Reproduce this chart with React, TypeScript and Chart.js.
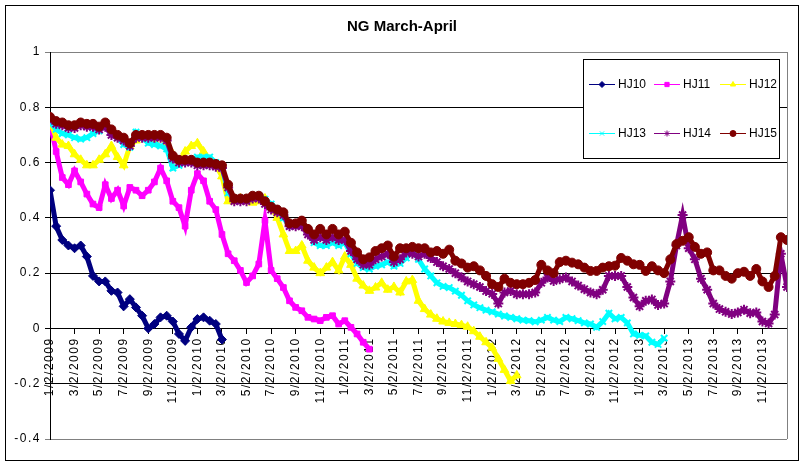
import React, { useEffect, useRef } from "react";
import { Chart, registerables } from "chart.js";
import { drawPoint } from "chart.js/helpers";

Chart.register(...registerables);

const TITLE = "NG March-April";
const FONT = '"Liberation Sans", Arial, sans-serif';

const seriesNames = ["HJ10", "HJ11", "HJ12", "HJ13", "HJ14", "HJ15"];
const seriesColors = ["#000080", "#FF00FF", "#FFFF00", "#00FFFF", "#800080", "#800000"];
const seriesMarkers = ["rectRot", "rect", "triangle", "crossRot", "star", "circle"];

// x = months since 1/2/2009; values sampled every half month
const tickMonths = [0, 2, 4, 6, 8, 10, 12, 14, 16, 18, 20, 22, 24, 26, 28, 30, 32, 34, 36, 38, 40, 42, 44, 46, 48, 50, 52, 54, 56, 58];
const tickLabels = [
  "1/2/2009", "3/2/2009", "5/2/2009", "7/2/2009", "9/2/2009", "11/2/2009",
  "1/2/2010", "3/2/2010", "5/2/2010", "7/2/2010", "9/2/2010", "11/2/2010",
  "1/2/2011", "3/2/2011", "5/2/2011", "7/2/2011", "9/2/2011", "11/2/2011",
  "1/2/2012", "3/2/2012", "5/2/2012", "7/2/2012", "9/2/2012", "11/2/2012",
  "1/2/2013", "3/2/2013", "5/2/2013", "7/2/2013", "9/2/2013", "11/2/2013",
];
const yTickLabels = ["-0.4", "-0.2", "0", "0.2", "0.4", "0.6", "0.8", "1"];

const hj10 = [0.50, 0.37, 0.32, 0.30, 0.29, 0.30, 0.26, 0.19, 0.17, 0.17, 0.136, 0.13, 0.08, 0.106, 0.076, 0.046, 0.0, 0.016, 0.04, 0.046, 0.025, -0.02, -0.045, 0.004, 0.034, 0.04, 0.028, 0.016, -0.04];

const hj11 = [0.745, 0.64, 0.546, 0.52, 0.57, 0.53, 0.486, 0.45, 0.437, 0.52, 0.47, 0.50, 0.443, 0.51, 0.50, 0.48, 0.50, 0.53, 0.58, 0.534, 0.46, 0.437, 0.37, 0.50, 0.56, 0.534, 0.46, 0.43, 0.34, 0.27, 0.245, 0.21, 0.166, 0.19, 0.233, 0.39, 0.21, 0.18, 0.148, 0.10, 0.076, 0.064, 0.04, 0.034, 0.028, 0.04, 0.046, 0.016, 0.028, 0.004, -0.02, -0.05, -0.075];

const hj12 = [0.75, 0.69, 0.665, 0.66, 0.63, 0.61, 0.59, 0.59, 0.61, 0.63, 0.66, 0.62, 0.59, 0.66, 0.68, 0.69, 0.69, 0.68, 0.69, 0.67, 0.63, 0.60, 0.64, 0.66, 0.67, 0.64, 0.61, 0.59, 0.55, 0.46, 0.46, 0.47, 0.46, 0.455, 0.46, 0.47,
  0.44, 0.40, 0.34, 0.28, 0.28, 0.30, 0.245, 0.22, 0.20, 0.22, 0.24, 0.21, 0.26, 0.23, 0.18, 0.155, 0.136, 0.148, 0.165, 0.14, 0.15, 0.13, 0.17, 0.175, 0.10, 0.07, 0.05, 0.035, 0.025, 0.02, 0.016, 0.012, 0.006, -0.01, -0.03, -0.05, -0.07, -0.11, -0.15, -0.19, -0.17];

const hj13 = [0.745, 0.72, 0.705, 0.70, 0.69, 0.685, 0.69, 0.705, 0.715, 0.74, 0.715, 0.69, 0.665, 0.655, 0.71, 0.69, 0.67, 0.665, 0.66, 0.65,
  0.58, 0.59, 0.60, 0.605, 0.62, 0.62, 0.62, 0.60, 0.585, 0.49, 0.47, 0.467, 0.47, 0.475, 0.48, 0.467, 0.45, 0.43, 0.40, 0.37,
  0.375, 0.385, 0.35, 0.31, 0.30, 0.30, 0.31, 0.30, 0.31, 0.27, 0.235, 0.22, 0.215, 0.225, 0.23, 0.24, 0.225, 0.235, 0.255, 0.28,
  0.25, 0.215, 0.19, 0.165, 0.152, 0.148, 0.135, 0.12, 0.10, 0.085, 0.075, 0.066, 0.06, 0.052, 0.045, 0.04, 0.035, 0.03, 0.028, 0.024,
  0.03, 0.04, 0.03, 0.025, 0.04, 0.035, 0.028, 0.02, 0.016, 0.004, 0.025, 0.055, 0.035, 0.04, 0.02, -0.02, -0.025, -0.027, -0.05, -0.058, -0.035];

const hj14 = [0.76, 0.74, 0.735, 0.725, 0.725, 0.735, 0.73, 0.73, 0.72, 0.73, 0.70, 0.69, 0.68, 0.66, 0.69, 0.69, 0.69, 0.69, 0.69, 0.68,
  0.615, 0.60, 0.60, 0.60, 0.59, 0.59, 0.59, 0.585, 0.58, 0.51, 0.46, 0.46, 0.46, 0.47, 0.47, 0.45, 0.43, 0.42, 0.41, 0.37,
  0.37, 0.37, 0.34, 0.32, 0.33, 0.32, 0.33, 0.32, 0.32, 0.28, 0.25, 0.23, 0.23, 0.25, 0.26, 0.27, 0.24, 0.25, 0.275, 0.27,
  0.26, 0.27, 0.255, 0.24, 0.225, 0.215, 0.20, 0.185, 0.17, 0.16, 0.15, 0.135, 0.125, 0.09, 0.13, 0.135, 0.124, 0.124, 0.124, 0.13,
  0.165, 0.184, 0.172, 0.178, 0.184, 0.17, 0.155, 0.142, 0.13, 0.124, 0.14, 0.19, 0.19, 0.19, 0.15, 0.112, 0.08, 0.10, 0.105, 0.085,
  0.09, 0.17, 0.30, 0.41, 0.29, 0.25, 0.18, 0.14, 0.09, 0.07, 0.06, 0.052, 0.058, 0.068, 0.055, 0.058, 0.025, 0.018, 0.05, 0.27, 0.15];

const hj15 = [0.765, 0.75, 0.745, 0.735, 0.735, 0.745, 0.74, 0.74, 0.73, 0.745, 0.72, 0.70, 0.69, 0.67, 0.70, 0.70, 0.70, 0.70, 0.70, 0.69,
  0.625, 0.61, 0.61, 0.61, 0.60, 0.60, 0.60, 0.595, 0.59, 0.52, 0.47, 0.47, 0.47, 0.48, 0.48, 0.46, 0.44, 0.43, 0.42, 0.38,
  0.38, 0.39, 0.36, 0.34, 0.36, 0.34, 0.36, 0.34, 0.35, 0.31, 0.275, 0.25, 0.257, 0.28, 0.29, 0.30, 0.26, 0.29, 0.29, 0.295,
  0.29, 0.29, 0.275, 0.28, 0.27, 0.285, 0.245, 0.235, 0.22, 0.225, 0.21, 0.19, 0.16, 0.15, 0.18, 0.165, 0.16, 0.16, 0.165, 0.175,
  0.23, 0.21, 0.20, 0.24, 0.245, 0.238, 0.232, 0.22, 0.208, 0.208, 0.22, 0.225, 0.227, 0.255, 0.245, 0.232, 0.23, 0.208, 0.225, 0.21,
  0.20, 0.25, 0.305, 0.317, 0.33, 0.295, 0.27, 0.275, 0.21, 0.21, 0.19, 0.18, 0.20, 0.205, 0.19, 0.215, 0.17, 0.15, 0.19, 0.33, 0.32];

const seriesValues = [hj10, hj11, hj12, hj13, hj14, hj15];
const HALF_MONTH = 0.5;

const markerRadius = [4.5, 4, 5, 4.5, 5, 4.5];

const framePlugin = {
  id: "frame",
  beforeDraw(chart: any) {
    const ctx = chart.ctx;
    ctx.save();
    ctx.fillStyle = "#ffffff";
    ctx.fillRect(0, 0, chart.width, chart.height);
    ctx.strokeStyle = "#000000";
    ctx.lineWidth = 1;
    ctx.strokeRect(5.5, 5.5, 793, 455);
    ctx.restore();
    (ctx as any).letterSpacing = "1.5px";
  },
  beforeDatasetsDraw(chart: any) {
    const { ctx, chartArea } = chart;
    ctx.save();
    ctx.strokeStyle = "#808080";
    ctx.lineWidth = 1;
    ctx.beginPath();
    const rx = Math.round(chartArea.right) + 0.5;
    ctx.moveTo(rx, chartArea.top);
    ctx.lineTo(rx, chartArea.bottom);
    ctx.stroke();
    ctx.restore();
  },
  afterDraw(chart: any) {
    const ctx = chart.ctx;
    (ctx as any).letterSpacing = "0px";
    ctx.save();
    // title
    ctx.fillStyle = "#000";
    ctx.font = `bold 15px ${FONT}`;
    ctx.textAlign = "center";
    ctx.textBaseline = "middle";
    ctx.fillText(TITLE, 402, 27);
    // legend box
    const { chartArea } = chart;
    const bx = chartArea.right - 204;
    const by = chartArea.top + 7;
    const bw = 196;
    const bh = 99;
    ctx.fillStyle = "#fff";
    ctx.fillRect(bx, by, bw, bh);
    ctx.strokeStyle = "#000";
    ctx.lineWidth = 1;
    ctx.strokeRect(Math.round(bx) + 0.5, Math.round(by) + 0.5, bw, bh);
    const colX = [bx + 6, bx + 71, bx + 137];
    const rowY = [by + 25, by + 74];
    chart.data.datasets.forEach((ds: any, i: number) => {
      const cx = colX[i % 3];
      const cy = rowY[Math.floor(i / 3)];
      ctx.strokeStyle = ds.borderColor;
      ctx.lineWidth = 1;
      ctx.beginPath();
      ctx.moveTo(cx, Math.round(cy) + 0.5);
      ctx.lineTo(cx + 26, Math.round(cy) + 0.5);
      ctx.stroke();
      ctx.fillStyle = ds.borderColor;
      drawPoint(ctx, { pointStyle: ds.pointStyle, radius: 3, rotation: 0, borderWidth: 1 }, cx + 13, cy + 0.5);
      ctx.fillStyle = "#000";
      ctx.font = `12px ${FONT}`;
      ctx.textAlign = "left";
      ctx.textBaseline = "middle";
      ctx.fillText(ds.label, cx + 29, cy + 1);
    });
    ctx.restore();
  },
};

export default function App() {
  const canvasRef = useRef<HTMLCanvasElement | null>(null);

  useEffect(() => {
    if (!canvasRef.current) return;
    const datasets = seriesNames.map((name, si) => ({
      label: name,
      data: seriesValues[si].map((v, i) => ({ x: i * HALF_MONTH, y: v })),
      borderColor: seriesColors[si],
      backgroundColor: seriesColors[si],
      pointBackgroundColor: seriesColors[si],
      pointBorderColor: seriesColors[si],
      pointStyle: seriesMarkers[si],
      pointRadius: markerRadius[si],
      pointBorderWidth: si === 3 || si === 4 ? 2 : 1,
      borderWidth: 5,
      tension: 0,
      order: 6 - si,
    }));

    const chart = new Chart(canvasRef.current, {
      type: "line",
      data: { datasets },
      plugins: [framePlugin],
      options: {
        animation: false,
        responsive: false,
        maintainAspectRatio: false,
        layout: { padding: { left: 5, top: 52, right: 18, bottom: 27 } },
        plugins: {
          legend: { display: false },
          title: { display: false },
          tooltip: { enabled: false },
        },
        scales: {
          x: {
            type: "linear",
            position: { y: 0 } as any,
            min: 0,
            max: 60,
            afterFit: (s: any) => {
              s.height = 0;
            },
            afterBuildTicks: (s: any) => {
              s.ticks = tickMonths.map((v) => ({ value: v }));
            },
            ticks: {
              autoSkip: false,
              minRotation: 90,
              maxRotation: 90,
              padding: 4,
              color: "#000",
              font: { size: 12, family: FONT },
              callback: (v: any) => tickLabels[tickMonths.indexOf(Number(v))] ?? "",
            },
            grid: { display: true, drawOnChartArea: false, drawTicks: true, tickLength: 5, color: "#000" },
            border: { display: true, color: "#000", width: 1 },
          },
          y: {
            type: "linear",
            position: "left",
            min: -0.4,
            max: 1,
            afterFit: (s: any) => {
              s.width = 45;
            },
            ticks: {
              stepSize: 0.2,
              padding: 4,
              color: "#000",
              font: { size: 12, family: FONT },
              callback: (v: any) => {
                const idx = Math.round((Number(v) + 0.4) / 0.2);
                return yTickLabels[idx] ?? "";
              },
            },
            grid: {
              drawTicks: true,
              tickLength: 5,
              color: (c: any) => {
                const v = c.tick ? c.tick.value : 0;
                return Math.abs(v - 1) < 1e-6 || Math.abs(v + 0.4) < 1e-6 ? "#808080" : "#000";
              },
            },
            border: { display: true, color: "#000", width: 1 },
          },
        },
      },
    });
    return () => chart.destroy();
  }, []);

  return (
    <div style={{ position: "fixed", left: 0, top: 0, width: 805, height: 466, background: "#fff" }}>
      <canvas ref={canvasRef} width={805} height={466} style={{ display: "block" }} />
    </div>
  );
}
